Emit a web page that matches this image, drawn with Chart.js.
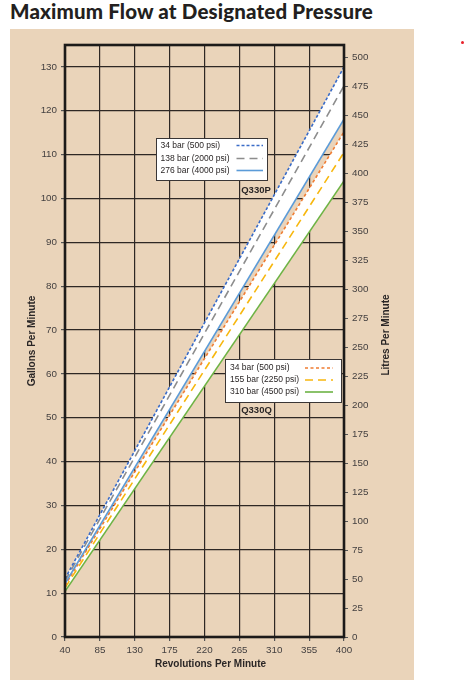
<!DOCTYPE html>
<html>
<head>
<meta charset="utf-8">
<title>Maximum Flow at Designated Pressure</title>
<script src="https://cdn.jsdelivr.net/npm/chart.js@4/dist/chart.umd.min.js"></script>
<style>
  html, body { margin: 0; padding: 0; background: #ffffff; }
  body { width: 466px; height: 688px; position: relative; overflow: hidden; }
  h1 {
    position: absolute; left: 10px; top: 1px; margin: 0;
    font-family: Lato, "Open Sans", sans-serif; font-weight: 900;
    font-size: 20.5px; letter-spacing: 0.15px; line-height: 1; color: #231f20; white-space: nowrap;
  }
  #panel {
    position: absolute; left: 10px; top: 29px; width: 404px; height: 651px;
    background: #ead4ba;
  }
  #dot {
    position: absolute; left: 461px; top: 41px; width: 3px; height: 3px;
    border-radius: 50%; background: #e8202a;
  }
</style>
</head>
<body>
<h1>Maximum Flow at Designated Pressure</h1>
<div id="panel"><canvas id="flowChart" width="404" height="651"></canvas></div>
<div id="dot"></div>

<script>
// Revolutions per minute (x) at the two ends of each line
const rpm = [40, 400];

// Q330P, gallons per minute
const p500 = [13.3, 130.0];
const p2000 = [12.8, 125.7];
const p4000 = [12.2, 118.1];

// Q330Q, gallons per minute
const q500 = [11.8, 115.2];
const q2250 = [11.2, 110.5];
const q4500 = [10.4, 104.0];

// Tick labels
const rpmTicks = [40, 85, 130, 175, 220, 265, 310, 355, 400];
const gpmTicks = [0, 10, 20, 30, 40, 50, 60, 70, 80, 90, 100, 110, 120, 130];
const lpmTicks = [0, 25, 50, 75, 100, 125, 150, 175, 200, 225, 250, 275, 300, 325, 350, 375, 400, 425, 450, 475, 500];

const gpmMax = 135;
const litresPerGallon = 3.785;

const legendP = ["34 bar (500 psi)", "138 bar (2000 psi)", "276 bar (4000 psi)"];
const legendQ = ["34 bar (500 psi)", "155 bar (2250 psi)", "310 bar (4500 psi)"];

function points(ys) {
    return rpm.map((x, i) => ({ x: x, y: ys[i] }));
}

function lineSet(label, ys, color, dash, fill) {
    return {
        label: label,
        data: points(ys),
        borderColor: color,
        borderWidth: 1.6,
        borderDash: dash,
        pointRadius: 0,
        tension: 0,
        fill: fill,
        backgroundColor: "#ffffff"
    };
}

function setTicks(list) {
    return function (scale) {
        scale.ticks = list.map(v => ({ value: v }));
    };
}

// Box, legend entries and the plot frame
const extras = {
    id: "extras",
    afterDatasetsDraw(chart) {
        let ctx = chart.ctx;
        let a = chart.chartArea;
        let ds = chart.data.datasets;

        ctx.save();
        ctx.strokeStyle = "#1c1a19";
        ctx.lineWidth = 2.6;
        ctx.strokeRect(a.left, a.top, a.right - a.left, a.bottom - a.top);

        drawLegend(ctx, [146, 109, 111, 42], [150.5, 226.5, 253], [116.5, 129.5, 141.5], legendP, ds.slice(0, 3));
        drawLegend(ctx, [215, 330, 116, 43], [220, 295, 323], [339, 351, 363], legendQ, ds.slice(3, 6));

        ctx.fillStyle = "#2a2626";
        ctx.font = "bold 9.5px 'Liberation Sans', Arial, sans-serif";
        ctx.textAlign = "center";
        ctx.textBaseline = "middle";
        ctx.fillText("Q330P", 246, 161);
        ctx.fillText("Q330Q", 246.5, 381.5);
        ctx.restore();
    },
    afterDraw(chart) {
        let ctx = chart.ctx;
        let a = chart.chartArea;
        ctx.save();
        ctx.fillStyle = "#2a2626";
        ctx.font = "bold 10px 'Liberation Sans', Arial, sans-serif";
        ctx.textAlign = "center";
        ctx.textBaseline = "middle";
        ctx.fillText("Revolutions Per Minute", 200.5, 635);

        let mid = (a.top + a.bottom) / 2;
        ctx.translate(22.5, mid);
        ctx.rotate(-Math.PI / 2);
        ctx.fillText("Gallons Per Minute", 0, 0);
        ctx.restore();

        ctx.save();
        ctx.fillStyle = "#2a2626";
        ctx.font = "bold 10px 'Liberation Sans', Arial, sans-serif";
        ctx.textAlign = "center";
        ctx.textBaseline = "middle";
        ctx.translate(376, 306);
        ctx.rotate(-Math.PI / 2);
        ctx.fillText("Litres Per Minute", 0, 0);
        ctx.restore();
    }
};

function drawLegend(ctx, box, cols, rows, labels, sets) {
    ctx.fillStyle = "#ffffff";
    ctx.fillRect(box[0], box[1], box[2], box[3]);
    ctx.strokeStyle = "#3a3636";
    ctx.lineWidth = 1;
    ctx.strokeRect(box[0] + 0.5, box[1] + 0.5, box[2], box[3]);

    ctx.font = "8.5px 'Liberation Sans', Arial, sans-serif";
    ctx.textAlign = "left";
    ctx.textBaseline = "middle";
    labels.forEach((t, i) => {
        ctx.fillStyle = "#2a2626";
        ctx.fillText(t, cols[0], rows[i]);
        ctx.strokeStyle = sets[i].borderColor;
        ctx.lineWidth = 1.6;
        ctx.setLineDash(sets[i].borderDash);
        ctx.beginPath();
        ctx.moveTo(cols[1], rows[i]);
        ctx.lineTo(cols[2], rows[i]);
        ctx.stroke();
        ctx.setLineDash([]);
    });
}

document.addEventListener("DOMContentLoaded", function () {
    let tickFont = { family: "'Liberation Sans', Arial, sans-serif", size: 9.8 };
    let gridColor = "#2e2724";

    new Chart(document.getElementById("flowChart"), {
        type: "line",
        data: {
            datasets: [
                lineSet("Q330P 34 bar (500 psi)", p500, "#3a6cc8", [3, 2], false),
                lineSet("Q330P 138 bar (2000 psi)", p2000, "#8d8d8d", [8, 5], false),
                lineSet("Q330P 276 bar (4000 psi)", p4000, "#5b9bd8", [], 0),
                lineSet("Q330Q 34 bar (500 psi)", q500, "#f07c32", [3, 2.5], false),
                lineSet("Q330Q 155 bar (2250 psi)", q2250, "#f7b70e", [8, 5], false),
                lineSet("Q330Q 310 bar (4500 psi)", q4500, "#6db344", [], 3)
            ]
        },
        options: {
            responsive: false,
            animation: false,
            devicePixelRatio: 1,
            layout: { padding: { top: 16, left: 0, right: 0, bottom: 0 } },
            plugins: {
                legend: { display: false },
                tooltip: { enabled: false },
                filler: { propagate: false }
            },
            scales: {
                x: {
                    type: "linear",
                    min: 40,
                    max: 400,
                    afterBuildTicks: setTicks(rpmTicks),
                    afterFit: function (scale) { scale.height = 43; },
                    grid: { color: gridColor, lineWidth: 1.2, tickLength: 4, tickColor: "#555" },
                    border: { display: false },
                    ticks: { font: tickFont, color: "#444040", padding: 3, maxRotation: 0 }
                },
                y: {
                    position: "left",
                    min: 0,
                    max: gpmMax,
                    afterBuildTicks: setTicks(gpmTicks),
                    afterFit: function (scale) { scale.width = 55; },
                    grid: { color: gridColor, lineWidth: 1.2, tickLength: 4, tickColor: "#555" },
                    border: { display: false },
                    ticks: { font: tickFont, color: "#444040", padding: 4 }
                },
                y2: {
                    position: "right",
                    min: 0,
                    max: gpmMax * litresPerGallon,
                    afterBuildTicks: setTicks(lpmTicks),
                    afterFit: function (scale) { scale.width = 70; },
                    grid: { drawOnChartArea: false, tickLength: 4, tickColor: "#555" },
                    border: { display: false },
                    ticks: { font: tickFont, color: "#444040", padding: 4 }
                }
            }
        },
        plugins: [extras]
    });
});
</script>
</body>
</html>
